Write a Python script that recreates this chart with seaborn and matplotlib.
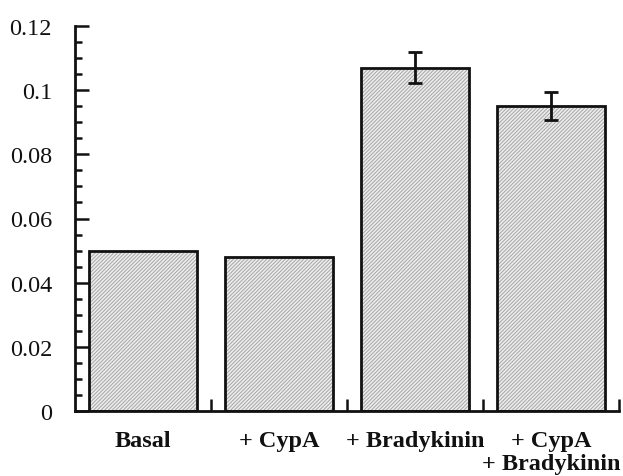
import matplotlib
matplotlib.use("Agg")
import matplotlib.pyplot as plt
import matplotlib.colors as mcolors
import matplotlib.transforms as mtransforms
from matplotlib.ticker import FixedLocator, FuncFormatter, MultipleLocator
import seaborn as sns
import pandas as pd

categories = ["Basal", "+ CypA", "+ Bradykinin", "+ CypA\n+ Bradykinin"]
values = [0.050, 0.048, 0.107, 0.095]
errors = [0.0, 0.0, 0.0048, 0.0043]
y_ticks = [0, 0.02, 0.04, 0.06, 0.08, 0.1, 0.12]

sns.set_theme(style="ticks")
plt.rcParams["font.family"] = ["Liberation Serif", "DejaVu Serif"]
plt.rcParams["hatch.linewidth"] = 0.7

df = pd.DataFrame({"cat": categories, "val": values})

fig = plt.figure(figsize=(6.23, 4.77), dpi=100)
ax = fig.add_axes([75 / 623, 1 - 412 / 477, (619 - 75) / 623, (412 - 27) / 477])

sns.barplot(data=df, x="cat", y="val", ax=ax, color="#ececec", width=0.8,
            edgecolor="#111111", linewidth=2, errorbar=None, saturation=1)
hatch_rgba = mcolors.to_rgba("#a6a6a6")
for p in ax.patches:
    p.set_hatch("/" * 9)
    if hasattr(p, "set_hatchcolor"):
        p.set_hatchcolor(hatch_rgba)
    else:
        p._hatch_color = hatch_rgba

xs = [i for i, e in enumerate(errors) if e > 0]
ax.errorbar(xs, [values[i] for i in xs], yerr=[errors[i] for i in xs],
            fmt="none", ecolor="#111111", elinewidth=2, capsize=5, capthick=2)

ax.set_xlim(-0.5, 3.5)
ax.set_ylim(0, 0.12)
sns.despine(ax=ax)
for s in ["left", "bottom"]:
    ax.spines[s].set_linewidth(2)
    ax.spines[s].set_color("#111111")

ax.set_yticks(y_ticks)
ax.yaxis.set_major_formatter(FuncFormatter(lambda v, p: "%g" % v))
ax.yaxis.set_minor_locator(MultipleLocator(0.005))
ax.tick_params(axis="y", which="major", direction="in", length=10, width=1.8,
               labelsize=17.5, pad=16.5, color="#111111", labelcolor="#111111")
ax.tick_params(axis="y", which="minor", direction="in", length=5, width=1.8,
               color="#111111")

n = len(categories)
ax.xaxis.set_major_locator(FixedLocator([i + 0.5 for i in range(n)]))
ax.xaxis.set_minor_locator(FixedLocator([i - 0.5 + k * 0.2 for i in range(n) for k in range(1, 5)]))
ax.tick_params(axis="x", which="major", direction="in", length=9, width=1.8,
               labelbottom=False, color="#111111")
ax.tick_params(axis="x", which="minor", direction="in", length=4, width=1.8,
               color="#111111")
ax.set_xlabel("")
ax.set_ylabel("")

trans = mtransforms.blended_transform_factory(ax.transData, ax.transAxes)
for i, c in enumerate(categories):
    ax.text(i, 0, c, transform=trans + mtransforms.ScaledTranslation(0, -13.5 / 72, fig.dpi_scale_trans),
            ha="center", va="top", fontsize=17.5, fontweight="bold", color="#111111",
            linespacing=1.15, multialignment="center")

fig.savefig("out.png", dpi=100)
